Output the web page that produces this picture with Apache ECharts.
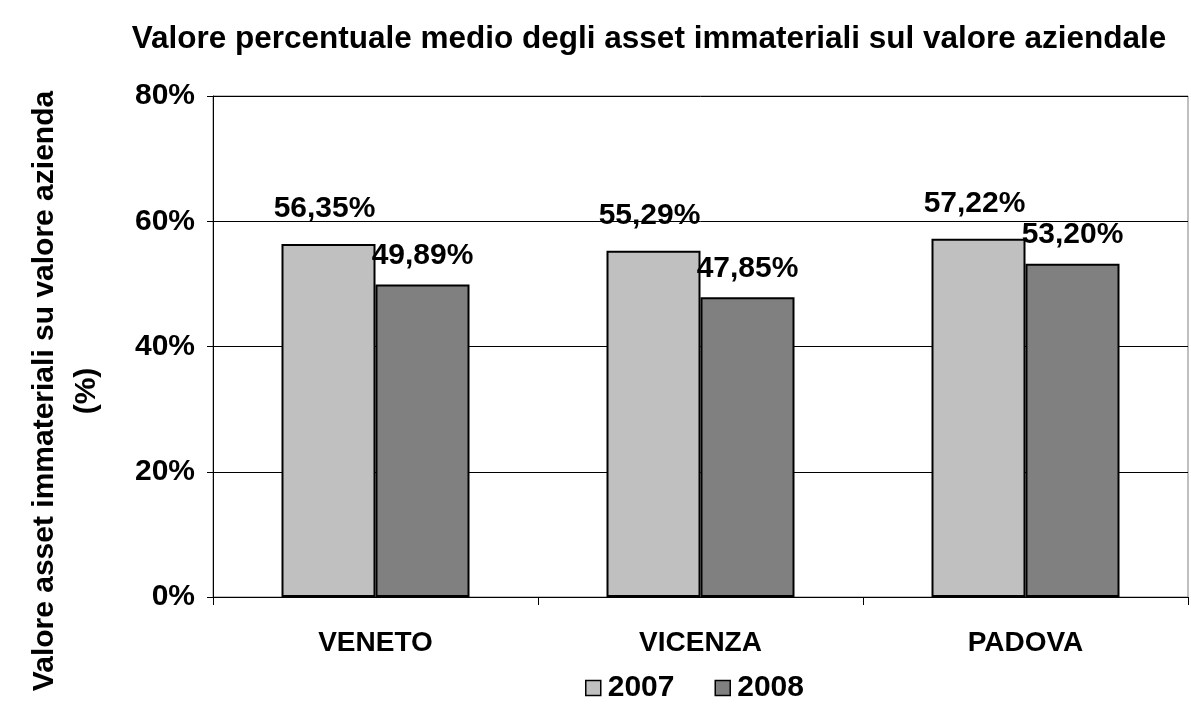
<!DOCTYPE html>
<html>
<head>
<meta charset="utf-8">
<script src="https://cdn.jsdelivr.net/npm/echarts@6/dist/echarts.min.js"></script>
<style>
  html, body { margin: 0; padding: 0; background: #fff; }
  #chart { width: 1191px; height: 711px; }
</style>
</head>
<body>
<div id="chart"></div>
<script>
// data
const regions = ["VENETO", "VICENZA", "PADOVA"];
const years = ["2007", "2008"];
const values2007 = [56.35, 55.29, 57.22];
const values2008 = [49.89, 47.85, 53.20];
const yTicks = [0, 20, 40, 60, 80];

const chart = echarts.init(document.getElementById("chart"));
const font = "Arial, 'Liberation Sans', sans-serif";

const fmt = (v) => v.toFixed(2).replace(".", ",") + "%";

const option = {
  animation: false,
  backgroundColor: "#fff",
  title: {
    text: "Valore percentuale medio degli asset immateriali sul valore aziendale",
    left: 644,
    textAlign: "center",
    top: 18,
    textStyle: { fontFamily: font, fontSize: 31.5, fontWeight: "bold", color: "#000" }
  },
  // y axis title sits lower than the plot middle, so it is drawn as a graphic
  graphic: [{
    type: "text",
    x: 66,
    y: 391,
    rotation: Math.PI / 2,
    style: {
      text: "Valore asset immateriali su valore azienda\n(%)",
      align: "center",
      verticalAlign: "middle",
      lineHeight: 42,
      font: "bold 30px " + font,
      fill: "#000"
    }
  }],
  legend: {
    data: years,
    icon: "rect",
    left: 580,
    top: 668,
    itemWidth: 15,
    itemHeight: 15,
    itemGap: 40,
    itemStyle: { borderColor: "#000", borderWidth: 1.5 },
    textStyle: { fontFamily: font, fontSize: 30, fontWeight: "bold", color: "#000", padding: [0, 0, 0, 2] }
  },
  grid: {
    left: 213, right: 3, top: 96, bottom: 114,
    outerBoundsMode: "none",
    containLabel: false,
    show: true, borderColor: "#808080", borderWidth: 1
  },
  xAxis: {
    type: "category",
    data: regions,
    axisLine: { lineStyle: { color: "#000", width: 1 } },
    axisTick: { show: true, length: 8, lineStyle: { color: "#000" } },
    axisLabel: { margin: 32, fontFamily: font, fontSize: 28, fontWeight: "bold", color: "#000" }
  },
  yAxis: {
    type: "value",
    min: yTicks[0],
    max: yTicks[yTicks.length - 1],
    interval: 20,
    axisLine: { show: true, lineStyle: { color: "#000", width: 1 } },
    axisTick: { show: true, inside: false, length: 6, lineStyle: { color: "#000" } },
    axisLabel: { margin: 18, formatter: "{value}%", fontFamily: font, fontSize: 30, fontWeight: "bold", color: "#000" },
    splitLine: { lineStyle: { color: "#000", width: 1 } }
  },
  series: [
    {
      name: years[0],
      type: "bar",
      data: values2007,
      barWidth: 94,
      barGap: "0%",
      itemStyle: { color: "#c0c0c0", borderColor: "#000", borderWidth: 2 },
      label: {
        show: true, position: "top", distance: 20, offset: [-4, 0],
        formatter: (p) => fmt(p.value),
        fontFamily: font, fontSize: 30, fontWeight: "bold", color: "#000"
      }
    },
    {
      name: years[1],
      type: "bar",
      data: values2008,
      barWidth: 94,
      itemStyle: { color: "#808080", borderColor: "#000", borderWidth: 2 },
      label: {
        show: true, position: "top", distance: 14,
        formatter: (p) => fmt(p.value),
        fontFamily: font, fontSize: 30, fontWeight: "bold", color: "#000"
      }
    }
  ]
};

chart.setOption(option);
</script>
</body>
</html>
